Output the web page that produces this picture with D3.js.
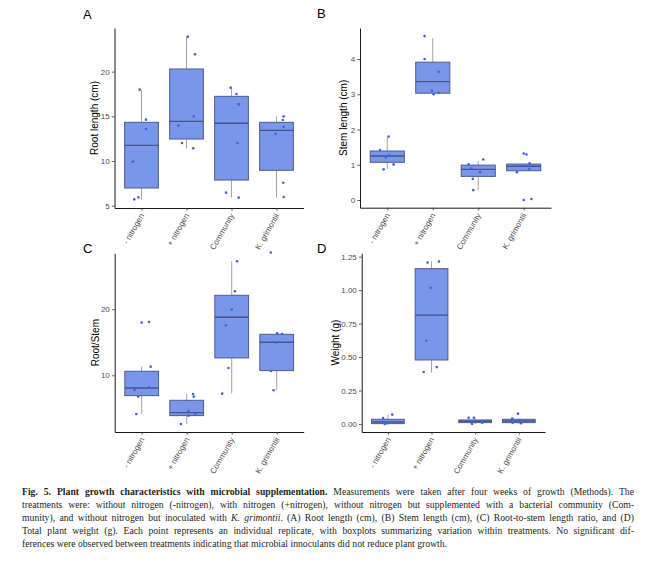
<!DOCTYPE html>
<html><head><meta charset="utf-8">
<script src="https://cdn.jsdelivr.net/npm/d3@7"></script>
<style>
body{margin:0;background:#fff;}
#wrap{position:relative;width:648px;height:562px;overflow:hidden;background:#fff;}
svg{position:absolute;left:0;top:0;}
.cap{position:absolute;left:22px;top:486px;width:612px;font-family:"Liberation Serif","Times New Roman",serif;font-size:9.7px;line-height:12.9px;color:#231f20;}
.cap .ln{white-space:nowrap;text-align:justify;text-align-last:justify;}
.cap .ln.last{text-align-last:left;}
</style></head><body>
<div id="wrap"><svg id="chart" width="648" height="562"></svg>
<div class="cap">
<div class="ln"><b>Fig. 5. Plant growth characteristics with microbial supplementation.</b> Measurements were taken after four weeks of growth (Methods). The</div>
<div class="ln">treatments were: without nitrogen (-nitrogen), with nitrogen (+nitrogen), without nitrogen but supplemented with a bacterial community (Com-</div>
<div class="ln">munity), and without nitrogen but inoculated with <i>K. grimontii</i>. (A) Root length (cm), (B) Stem length (cm), (C) Root-to-stem length ratio, and (D)</div>
<div class="ln">Total plant weight (g). Each point represents an individual replicate, with boxplots summarizing variation within treatments. No significant dif-</div>
<div class="ln last">ferences were observed between treatments indicating that microbial innoculants did not reduce plant growth.</div>
</div></div>
<script>
// ---------- DATA ----------
const categories = ["- nitrogen", "+ nitrogen", "Community", "K. grimontii"];

// box stats per treatment: [lower whisker, Q1, median, Q3, upper whisker]
const rootBox = [[5.71, 6.98, 11.75, 14.33, 17.95],[11.42, 12.46, 14.44, 20.3, 23.92],[5.93, 7.87, 14.22, 17.24, 18.25],[5.93, 8.96, 13.43, 14.33, 15.0]];
const rootPoints = [[17.99, 14.63, 13.58, 9.93, 5.93, 5.71],[23.92, 21.94, 15.0, 13.96, 12.01, 11.42],[18.21, 17.5, 16.34, 12.01, 6.46, 5.9],[15.0, 14.59, 13.84, 13.06, 7.57, 5.97]];
const rootJitter = [[-0.04, 0.10, 0.10, -0.19, -0.07, -0.16],[0.03, 0.19, 0.16, -0.18, -0.10, 0.15],[-0.02, 0.11, 0.16, 0.13, -0.12, 0.16],[0.16, 0.14, 0.16, -0.02, 0.15, 0.16]];
const rootTicks = [5, 10, 15, 20];

const stemBox = [[0.87, 1.07, 1.25, 1.39, 1.80],[3.0, 3.03, 3.36, 3.91, 4.59],[0.28, 0.67, 0.87, 0.99, 1.11],[0.83, 0.83, 0.96, 1.02, 1.02]];
const stemPoints = [[1.80, 1.42, 1.27, 1.21, 1.01, 0.87],[4.65, 4.0, 3.64, 3.10, 3.0, 3.04],[1.15, 1.01, 0.89, 0.79, 0.60, 0.28],[1.32, 1.29, 1.04, 0.98, 0.88, 0.79, 0.0, 0.03]];
const stemJitter = [[0.03, -0.16, 0.04, -0.03, 0.14, -0.08],[-0.18, -0.18, 0.13, -0.02, 0.02, 0.13],[0.11, -0.21, -0.15, 0.04, -0.12, -0.11],[0, 0.06, 0.13, -0.02, 0.12, -0.15, 0, 0.17]];
const stemTicks = [0, 1, 2, 3, 4];

const ratioBox = [[4.14, 6.92, 8.08, 10.61, 11.31],[2.58, 3.89, 4.34, 6.21, 7.17],[7.27, 12.63, 18.79, 22.12, 27.32],[7.73, 10.71, 15.0, 16.21, 16.21]];
const ratioPoints = [[17.98, 18.08, 11.31, 8.18, 7.78, 6.77, 4.14],[7.17, 6.77, 4.6, 4.09, 3.89, 2.63],[27.27, 22.73, 19.95, 17.58, 11.11, 7.22],[28.59, 16.36, 16.26, 14.95, 10.66, 7.73]];
const ratioJitter = [[0, 0.16, 0.20, 0.16, -0.16, -0.08, -0.12],[0.14, 0.16, 0.04, 0.19, 0.04, -0.13],[0.12, 0.07, 0, -0.13, -0.07, -0.21],[-0.13, 0.01, 0.12, -0.02, -0.13, -0.07]];
const ratioTicks = [10, 20];

const weightBox = [[0, 0.0025, 0.015, 0.035, 0.07],[0.383, 0.478, 0.813, 1.16, 1.216],[0.0, 0.01, 0.02, 0.03, 0.047],[0.005, 0.01, 0.022, 0.035, 0.04]];
const weightPoints = [[0.07, 0.045, 0.01, 0, 0.015, 0.005],[1.206, 1.214, 1.017, 0.622, 0.425, 0.388],[0.047, 0.047, 0.01, 0, 0.01, 0.017],[0.077, 0.04, 0.01, 0.005, 0.025, 0.015]];
const weightJitter = [[0.10, -0.11, -0.04, -0.07, -0.13, -0.01],[-0.09, 0.17, -0.02, -0.12, 0.12, -0.18],[-0.15, -0.03, -0.08, -0.07, 0.16, 0.16],[-0.02, -0.15, -0.14, 0.05, 0, -0.04]];
const weightTicks = [0, 0.25, 0.5, 0.75, 1.0, 1.25];

// ---------- LAYOUT ----------
const panels = [
  {tag:"A", title:"Root length (cm)", box:rootBox, pts:rootPoints, jit:rootJitter, ticks:rootTicks, fmt:d3.format("d"),
   xr:[114.5,303.5], yr:[208,28], dom:[4.74,24.89], tagPos:[83,19.3], titleX:97.5},
  {tag:"B", title:"Stem length (cm)", box:stemBox, pts:stemPoints, jit:stemJitter, ticks:stemTicks, fmt:d3.format("d"),
   xr:[360,551], yr:[207.7,28], dom:[-0.218,4.88], tagPos:[317,18.3], titleX:347},
  {tag:"C", title:"Root/Stem", box:ratioBox, pts:ratioPoints, jit:ratioJitter, ticks:ratioTicks, fmt:d3.format("d"),
   xr:[114.7,303.7], yr:[432,253.3], dom:[1.41,28.48], tagPos:[83,253], titleX:99},
  {tag:"D", title:"Weight (g)", box:weightBox, pts:weightPoints, jit:weightJitter, ticks:weightTicks, fmt:d3.format(".2f"),
   xr:[361.7,545], yr:[432,253.3], dom:[-0.06,1.275], tagPos:[317,253], titleX:339}
];

const FONT = "'Liberation Sans', Arial, sans-serif";
const svg = d3.select("#chart");

panels.forEach(p => {
  const g = svg.append("g");
  const x = d3.scalePoint().domain(categories).range(p.xr).padding(0.6);
  const y = d3.scaleLinear().domain(p.dom).range(p.yr);
  const step = x.step();
  const bw = 0.75 * step;

  const groups = g.selectAll("g.grp").data(categories).join("g").attr("class","grp");
  // whiskers
  groups.append("line")
    .attr("x1", d => x(d)).attr("x2", d => x(d))
    .attr("y1", (d,i) => y(p.box[i][4])).attr("y2", (d,i) => y(p.box[i][3]))
    .attr("stroke", "#9a9a9a").attr("stroke-width", 0.9);
  groups.append("line")
    .attr("x1", d => x(d)).attr("x2", d => x(d))
    .attr("y1", (d,i) => y(p.box[i][1])).attr("y2", (d,i) => y(p.box[i][0]))
    .attr("stroke", "#9a9a9a").attr("stroke-width", 0.9);
  // boxes
  groups.append("rect")
    .attr("x", d => x(d) - bw/2).attr("width", bw)
    .attr("y", (d,i) => y(p.box[i][3]))
    .attr("height", (d,i) => Math.max(0.5, y(p.box[i][1]) - y(p.box[i][3])))
    .attr("fill", "#7a96ea").attr("stroke", "#4c5c8e").attr("stroke-width", 1);
  // medians
  groups.append("line")
    .attr("x1", d => x(d) - bw/2).attr("x2", d => x(d) + bw/2)
    .attr("y1", (d,i) => y(p.box[i][2])).attr("y2", (d,i) => y(p.box[i][2]))
    .attr("stroke", "#45558a").attr("stroke-width", 1.4);
  // jittered points
  groups.each(function(d,i){
    d3.select(this).selectAll("circle").data(p.pts[i].map((v,k)=>({v, j:p.jit[i][k]}))).join("circle")
      .attr("cx", e => x(d) + e.j*step).attr("cy", e => y(e.v))
      .attr("r", 1.3).attr("fill", "#3f63dc");
  });

  // axes
  const ya = g.append("g").attr("transform", `translate(${p.xr[0]},0)`)
    .call(d3.axisLeft(y).tickValues(p.ticks).tickFormat(p.fmt).tickSize(2.7).tickSizeOuter(0).tickPadding(2.2));
  const xa = g.append("g").attr("transform", `translate(0,${p.yr[0]})`)
    .call(d3.axisBottom(x).tickSize(2.7).tickSizeOuter(0));
  [ya, xa].forEach(a => {
    a.select(".domain").attr("stroke", "#1a1a1a").attr("stroke-width", 1);
    a.selectAll(".tick line").attr("stroke", "#333").attr("stroke-width", 0.8);
    a.selectAll(".tick text").attr("fill", "#4d4d4d").style("font-family", FONT).style("font-size", "8px");
  });
  ya.attr("font-size", null).attr("font-family", null);
  xa.attr("font-size", null).attr("font-family", null);
  xa.selectAll(".tick text")
    .attr("x", 0).attr("y", 0).attr("dy", 0)
    .attr("text-anchor", "end")
    .attr("transform", "translate(2.5,7.5) rotate(-60)");

  // axis title
  g.append("text")
    .attr("transform", `translate(${p.titleX},${(p.yr[0]+p.yr[1])/2}) rotate(-90)`)
    .attr("text-anchor", "middle")
    .style("font-family", FONT).style("font-size", "10px").attr("fill", "#000")
    .text(p.title);
  // panel tag
  g.append("text").attr("x", p.tagPos[0]).attr("y", p.tagPos[1])
    .style("font-family", FONT).style("font-size", "13px").attr("fill", "#000")
    .text(p.tag);
});
</script>
</body></html>
